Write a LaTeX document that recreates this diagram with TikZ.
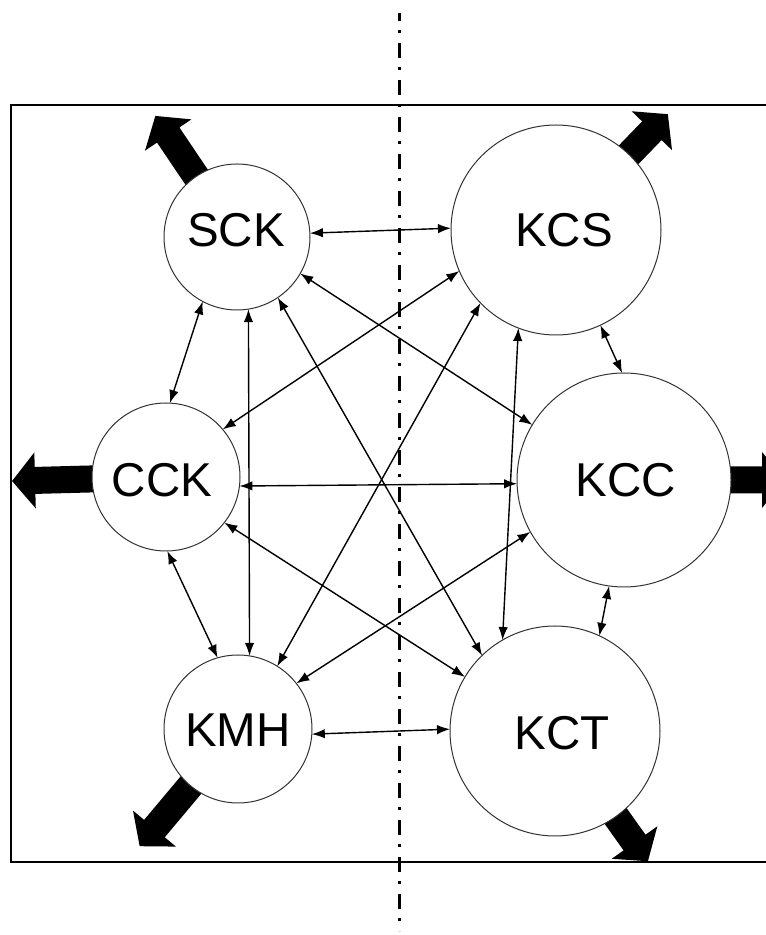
\documentclass[tikz,border=0pt]{standalone}
\usepackage{fontspec}
\setmainfont{Liberation Sans}
\usetikzlibrary{arrows.meta}
\newcommand{\fatarr}[3]{%
  \fill[black, shift={(#1)}, rotate=#2]
    (0,-13.5) -- (#3-23,-13.5) -- (#3-23,-28) -- (#3,0) -- (#3-23,28) -- (#3-23,13.5) -- (0,13.5) -- cycle;}
\begin{document}
\begin{tikzpicture}[x=1pt,y=1pt,
  circ/.style={circle, draw=black!80, line width=1pt, fill=white, inner sep=0pt, outer sep=0pt},
  lab/.style={font=\fontsize{47.5}{50}\selectfont, inner sep=0pt},
  conn/.style={line width=1.4pt, {Latex[length=13pt,width=9.5pt]}-{Latex[length=13pt,width=9.5pt]}},
  frame/.style={line width=2.8pt},
  axis/.style={line width=3pt, dash pattern=on 15pt off 9pt on 3pt off 10pt, dash phase=7pt}]
\useasboundingbox (0,0) rectangle (766,935);
\clip (0,0) rectangle (766,935);
% centres
\coordinate (cSCK) at (237,698);
\coordinate (cKCS) at (556,705);
\coordinate (cCCK) at (166,458);
\coordinate (cKCC) at (624,455);
\coordinate (cKMH) at (238,206);
\coordinate (cKCT) at (555,204);
% frame
\draw[frame] (11,830) rectangle (800,73);
% fat outward arrows
\fatarr{cSCK}{124}{146}
\fatarr{cKCS}{46}{161}
\fatarr{cCCK}{181.5}{154}
\fatarr{cKCC}{0}{161}
\fatarr{cKMH}{230}{153}
\fatarr{cKCT}{305.5}{160}
% circles
\node[circ, minimum size=146pt, label={[lab, xshift=-1pt, yshift=7pt]center:SCK}] (SCK) at (cSCK) {};
\node[circ, minimum size=210pt, label={[lab, xshift=8pt]center:KCS}] (KCS) at (cKCS) {};
\node[circ, minimum size=148pt, label={[lab, xshift=-4pt, yshift=-3pt]center:CCK}] (CCK) at (cCCK) {};
\node[circ, minimum size=214pt, label={[lab, xshift=2pt]center:KCC}] (KCC) at (cKCC) {};
\node[circ, minimum size=148pt, label={[lab, yshift=-1pt]center:KMH}] (KMH) at (cKMH) {};
\node[circ, minimum size=210pt, label={[lab, xshift=7pt, yshift=-2pt]center:KCT}] (KCT) at (cKCT) {};
% connectors
\draw[conn] (SCK.3) -- (KCS.179.5);
\draw[conn] (SCK.242) -- (CCK.87);
\draw[conn] (SCK.279) -- (KMH.81.8);
\draw[conn] (SCK.330) -- (KCC.149.6);
\draw[conn] (SCK.304) -- (KCT.134.6);
\draw[conn] (KCS.203.6) -- (CCK.40.4);
\draw[conn] (KCS.224.6) -- (KMH.58.8);
\draw[conn] (KCS.249.6) -- (KCT.120.6);
\draw[conn] (KCS.295.9) -- (KCC.91.1);
\draw[conn] (CCK.353.8) -- (KCC.182.7);
\draw[conn] (CCK.271.5) -- (KMH.106.8);
\draw[conn] (CCK.322.5) -- (KCT.149.5);
\draw[conn] (KCC.209) -- (KMH.38.1);
\draw[conn] (KCC.262.4) -- (KCT.65);
\draw[conn] (KMH.356.1) -- (KCT.179.5);
% symmetry axis
\coordinate (axtop) at (399,922);
\coordinate (axbot) at (399,4);
\draw[axis] (axtop) -- (axbot);
\end{tikzpicture}
\end{document}
